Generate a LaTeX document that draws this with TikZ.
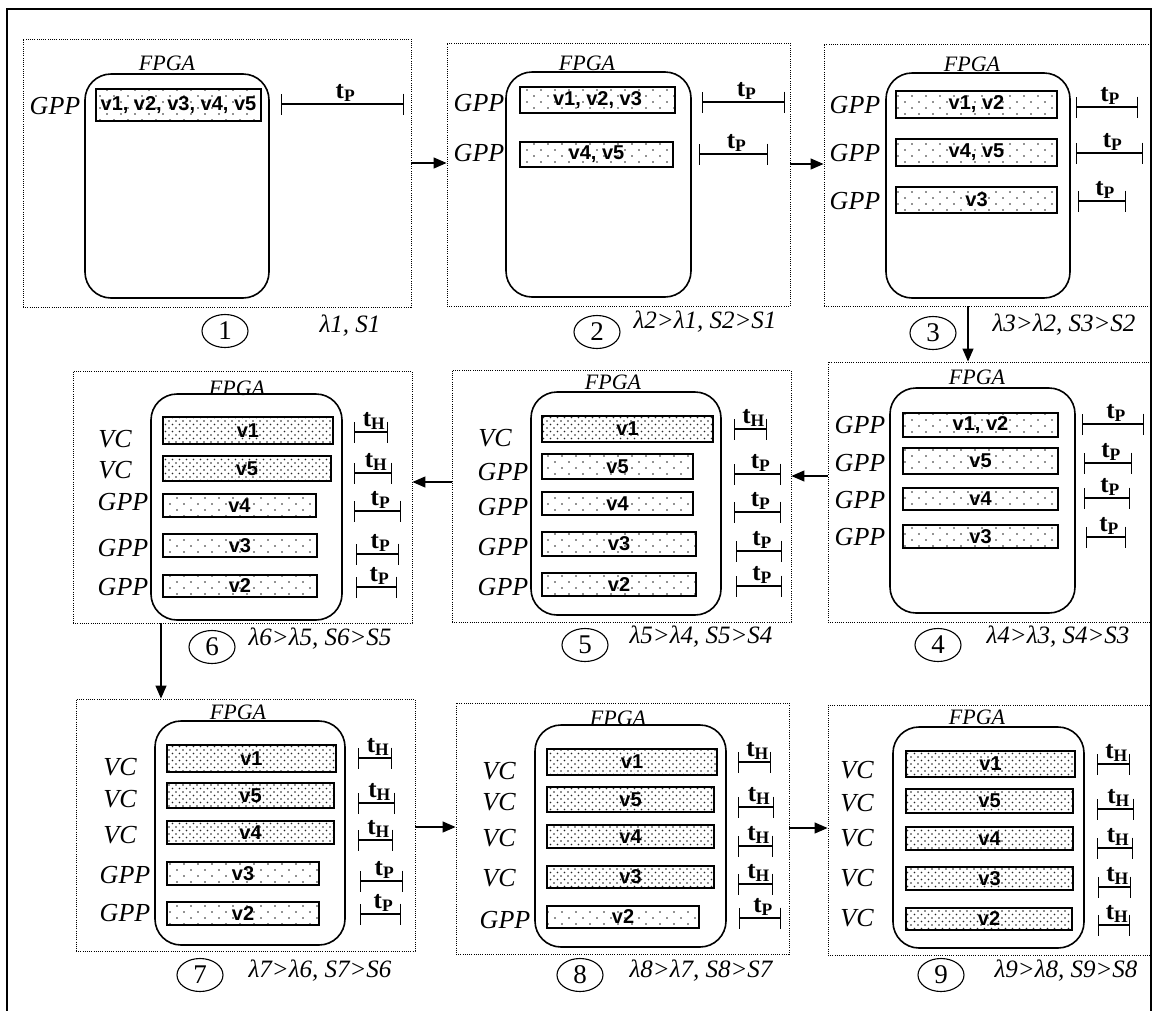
\documentclass[tikz,border=0pt]{standalone}
\usepackage{fontspec}
\setmainfont{Liberation Serif}
\setsansfont{Liberation Sans}
\usetikzlibrary{arrows.meta,fit,patterns,shapes.geometric}

% fill patterns: sparse dots for GPP slots, dense dots for VC slots
\pgfdeclarepatternformonly{gppdots}{\pgfqpoint{-1pt}{-1pt}}{\pgfqpoint{15pt}{13pt}}{\pgfqpoint{14pt}{12pt}}{%
  \pgfpathcircle{\pgfqpoint{2pt}{2pt}}{0.8pt}%
  \pgfpathcircle{\pgfqpoint{9pt}{8pt}}{0.8pt}%
  \pgfusepath{fill}}
\pgfdeclarepatternformonly{vcdots}{\pgfqpoint{-1pt}{-1pt}}{\pgfqpoint{8pt}{8pt}}{\pgfqpoint{7pt}{7pt}}{%
  \pgfpathcircle{\pgfqpoint{1pt}{1pt}}{0.85pt}%
  \pgfpathcircle{\pgfqpoint{4.5pt}{4.5pt}}{0.85pt}%
  \pgfusepath{fill}}

\newcommand\tP{\textbf{t\textsubscript{P}}}
\newcommand\tH{\textbf{t\textsubscript{H}}}

% slot bar: name, style, x1, y1, x2, y2, text
\newcommand\Slot[7]{%
  \pgfmathsetmacro\slotw{#5-#3}\pgfmathsetmacro\sloth{#6-#4}%
  \pgfmathsetmacro\slotx{(#3+#5)/2}\pgfmathsetmacro\sloty{(#4+#6)/2}%
  \node[#2, minimum width=\slotw pt, minimum height=\sloth pt] (#1) at (\slotx,\sloty) {#7};}
% timing span: name, x1, x2, y, label
\newcommand\Span[5]{%
  \coordinate (#1-l) at (#2,#4); \coordinate (#1-r) at (#3,#4);
  \draw[spanline] (#1-l) -- node[tlab] {#5} (#1-r);}
% framed box: name, style, x1, y1, x2, y2
\newcommand\Frame[6]{%
  \path (#3,#4) coordinate (#1-nw) (#5,#6) coordinate (#1-se);
  \node[#2, fit=(#1-nw)(#1-se)] (#1) {};}

\tikzset{
  panel/.style={draw, line width=0.9pt, dash pattern=on 0.9pt off 1.3pt, inner sep=0pt},
  fpga/.style={draw, line width=1.6pt, rounded corners=26pt, inner sep=0pt},
  slotbase/.style={draw, line width=1.5pt, inner sep=0pt,
    font=\sffamily\bfseries\fontsize{20}{20}\selectfont},
  gpp/.style={slotbase, pattern=gppdots, pattern color=black!85},
  vc/.style={slotbase, pattern=vcdots, pattern color=black!85},
  spanline/.style={line width=1.4pt, {Bar[width=21pt,line width=1.4pt]}-{Bar[width=21pt,line width=1.4pt]}},
  tlab/.style={above, inner sep=1.5pt, xshift=3pt, font=\fontsize{25}{25}\selectfont},
  unitlab/.style={font=\itshape\fontsize{26}{26}\selectfont, inner sep=0pt},
  fpgalab/.style={font=\itshape\fontsize{22}{22}\selectfont, inner sep=0pt},
  stagenum/.style={draw, ellipse, line width=1.1pt, minimum width=46pt, minimum height=33pt,
    inner sep=0pt, font=\fontsize{27}{27}\selectfont},
  cond/.style={font=\itshape\fontsize{25}{25}\selectfont, inner sep=0pt},
  arr/.style={line width=1.3pt, -{Triangle[length=13pt,width=11pt]}}
}

\begin{document}
\begin{tikzpicture}[x=1pt,y=-1pt]
\useasboundingbox (0,0) rectangle (1154,1010);
\fill[white] (0,0) rectangle (1154,1010);
\draw[line width=1.6pt] (7,9) rectangle (1151,1030);

% ---------- stage 1 ----------
\Frame{p1}{panel}{23}{39}{411}{307}
\Frame{f1}{fpga}{85}{74}{269}{298}
\node[fpgalab] (f1l) at (167,63) {FPGA};
\node[unitlab] (u1a) at (55,106) {GPP};
\Slot{s1a}{gpp}{96}{89}{261}{121}{v1, v2, v3, v4, v5}
\Span{t1a}{281}{404}{104}{\tP}
\node[stagenum] (n1) at (225,331) {1};
\node[cond] (c1) at (350,326) {λ1, S1};

% ---------- stage 2 ----------
\Frame{p2}{panel}{447}{43}{790}{306}
\Frame{f2}{fpga}{506}{72}{691}{297}
\node[fpgalab] (f2l) at (587,63) {FPGA};
\node[unitlab] (u2a) at (479,103) {GPP};
\node[unitlab] (u2b) at (479,153) {GPP};
\Slot{s2a}{gpp}{520}{87}{675}{113}{v1, v2, v3}
\Slot{s2b}{gpp}{520}{142}{673}{167}{v4, v5}
\Span{t2a}{702}{785}{102}{\tP}
\Span{t2b}{699}{768}{154}{\tP}
\node[stagenum] (n2) at (597,332) {2};
\node[cond] (c2) at (705,322) {λ2>λ1, S2>S1};

% ---------- stage 3 ----------
\Frame{p3}{panel}{824}{44}{1150}{306}
\Frame{f3}{fpga}{886}{73}{1070}{298}
\node[fpgalab] (f3l) at (972,64) {FPGA};
\node[unitlab] (u3a) at (855,105) {GPP};
\node[unitlab] (u3b) at (855,153) {GPP};
\node[unitlab] (u3c) at (855,201) {GPP};
\Slot{s3a}{gpp}{896}{91}{1057}{118}{v1, v2}
\Slot{s3b}{gpp}{896}{139}{1057}{166}{v4, v5}
\Slot{s3c}{gpp}{896}{187}{1057}{213}{v3}
\Span{t3a}{1076}{1138}{107}{\tP}
\Span{t3b}{1076}{1143}{153}{\tP}
\Span{t3c}{1078}{1126}{201}{\tP}
\node[stagenum] (n3) at (933,333) {3};
\node[cond] (c3) at (1064,325) {λ3>λ2, S3>S2};

% ---------- stage 4 ----------
\Frame{p4}{panel}{828}{362}{1150}{622}
\Frame{f4}{fpga}{890}{388}{1075}{613}
\node[fpgalab] (f4l) at (977,377) {FPGA};
\node[unitlab] (u4a) at (860,425) {GPP};
\node[unitlab] (u4b) at (860,463) {GPP};
\node[unitlab] (u4c) at (860,500) {GPP};
\node[unitlab] (u4d) at (860,537) {GPP};
\Slot{s4a}{gpp}{903}{413}{1058}{437}{v1, v2}
\Slot{s4b}{gpp}{903}{448}{1058}{474}{v5}
\Slot{s4c}{gpp}{903}{488}{1058}{510}{v4}
\Slot{s4d}{gpp}{903}{525}{1058}{548}{v3}
\Span{t4a}{1082}{1144}{424}{\tP}
\Span{t4b}{1084}{1132}{463}{\tP}
\Span{t4c}{1084}{1130}{498}{\tP}
\Span{t4d}{1086}{1126}{537}{\tP}
\node[stagenum] (n4) at (938,645) {4};
\node[cond] (c4) at (1058,637) {λ4>λ3, S4>S3};

% ---------- stage 5 ----------
\Frame{p5}{panel}{452}{370}{791}{622}
\Frame{f5}{fpga}{531}{392}{721}{615}
\node[fpgalab] (f5l) at (613,382) {FPGA};
\node[unitlab] (u5a) at (495,438) {VC};
\node[unitlab] (u5b) at (503,472) {GPP};
\node[unitlab] (u5c) at (503,507) {GPP};
\node[unitlab] (u5d) at (503,547) {GPP};
\node[unitlab] (u5e) at (503,587) {GPP};
\Slot{s5a}{vc}{542}{416}{713}{442}{v1}
\Slot{s5b}{gpp}{542}{454}{693}{479}{v5}
\Slot{s5c}{gpp}{542}{492}{693}{515}{v4}
\Slot{s5d}{gpp}{542}{532}{696}{556}{v3}
\Slot{s5e}{gpp}{542}{573}{696}{596}{v2}
\Span{t5a}{734}{767}{429}{\tH}
\Span{t5b}{734}{781}{474}{\tP}
\Span{t5c}{734}{781}{512}{\tP}
\Span{t5d}{736}{782}{551}{\tP}
\Span{t5e}{736}{782}{586}{\tP}
\node[stagenum] (n5) at (585,645) {5};
\node[cond] (c5) at (701,637) {λ5>λ4, S5>S4};

% ---------- stage 6 ----------
\Frame{p6}{panel}{73}{371}{412}{623}
\Frame{f6}{fpga}{151}{394}{342}{620}
\node[fpgalab] (f6l) at (237,388) {FPGA};
\node[unitlab] (u6a) at (115,439) {VC};
\node[unitlab] (u6b) at (115,470) {VC};
\node[unitlab] (u6c) at (123,502) {GPP};
\node[unitlab] (u6d) at (123,548) {GPP};
\node[unitlab] (u6e) at (123,587) {GPP};
\Slot{s6a}{vc}{163}{417}{333}{444}{v1}
\Slot{s6b}{vc}{163}{456}{331}{481}{v5}
\Slot{s6c}{gpp}{163}{494}{316}{517}{v4}
\Slot{s6d}{gpp}{163}{534}{317}{557}{v3}
\Slot{s6e}{gpp}{163}{575}{317}{597}{v2}
\Span{t6a}{354}{388}{432}{\tH}
\Span{t6b}{354}{392}{473}{\tH}
\Span{t6c}{354}{401}{511}{\tP}
\Span{t6d}{356}{399}{554}{\tP}
\Span{t6e}{356}{397}{587}{\tP}
\node[stagenum] (n6) at (212,647) {6};
\node[cond] (c6) at (320,639) {λ6>λ5, S6>S5};

% ---------- stage 7 ----------
\Frame{p7}{panel}{76}{699}{415}{951}
\Frame{f7}{fpga}{155}{721}{345}{945}
\node[fpgalab] (f7l) at (238,712) {FPGA};
\node[unitlab] (u7a) at (120,767) {VC};
\node[unitlab] (u7b) at (120,799) {VC};
\node[unitlab] (u7c) at (120,835) {VC};
\node[unitlab] (u7d) at (125,875) {GPP};
\node[unitlab] (u7e) at (125,913) {GPP};
\Slot{s7a}{vc}{167}{745}{336}{772}{v1}
\Slot{s7b}{vc}{167}{783}{334}{808}{v5}
\Slot{s7c}{vc}{167}{821}{334}{844}{v4}
\Slot{s7d}{gpp}{167}{862}{319}{885}{v3}
\Slot{s7e}{gpp}{167}{902}{319}{925}{v2}
\Span{t7a}{358}{392}{758}{\tH}
\Span{t7b}{358}{395}{803}{\tH}
\Span{t7c}{358}{393}{840}{\tH}
\Span{t7d}{360}{403}{881}{\tP}
\Span{t7e}{360}{401}{914}{\tP}
\node[stagenum] (n7) at (200,975) {7};
\node[cond] (c7) at (320,971) {λ7>λ6, S7>S6};

% ---------- stage 8 ----------
\Frame{p8}{panel}{456}{703}{789}{954}
\Frame{f8}{fpga}{535}{725}{726}{947}
\node[fpgalab] (f8l) at (618,718) {FPGA};
\node[unitlab] (u8a) at (499,771) {VC};
\node[unitlab] (u8b) at (499,802) {VC};
\node[unitlab] (u8c) at (499,838) {VC};
\node[unitlab] (u8d) at (499,878) {VC};
\node[unitlab] (u8e) at (505,920) {GPP};
\Slot{s8a}{vc}{547}{749}{717}{775}{v1}
\Slot{s8b}{vc}{547}{787}{714}{812}{v5}
\Slot{s8c}{vc}{547}{825}{714}{848}{v4}
\Slot{s8d}{vc}{547}{866}{714}{888}{v3}
\Slot{s8e}{gpp}{547}{906}{699}{928}{v2}
\Span{t8a}{738}{771}{762}{\tH}
\Span{t8b}{738}{774}{807}{\tH}
\Span{t8c}{738}{773}{846}{\tH}
\Span{t8d}{738}{773}{884}{\tH}
\Span{t8e}{739}{781}{918}{\tP}
\node[stagenum] (n8) at (580,975) {8};
\node[cond] (c8) at (701,971) {λ8>λ7, S8>S7};

% ---------- stage 9 ----------
\Frame{p9}{panel}{828}{705}{1151}{955}
\Frame{f9}{fpga}{893}{727}{1084}{948}
\node[fpgalab] (f9l) at (977,717) {FPGA};
\node[unitlab] (u9a) at (857,770) {VC};
\node[unitlab] (u9b) at (857,803) {VC};
\node[unitlab] (u9c) at (857,838) {VC};
\node[unitlab] (u9d) at (857,878) {VC};
\node[unitlab] (u9e) at (857,918) {VC};
\Slot{s9a}{vc}{906}{751}{1075}{777}{v1}
\Slot{s9b}{vc}{906}{789}{1073}{813}{v5}
\Slot{s9c}{vc}{906}{827}{1073}{850}{v4}
\Slot{s9d}{vc}{906}{867}{1073}{890}{v3}
\Slot{s9e}{vc}{906}{908}{1072}{930}{v2}
\Span{t9a}{1097}{1130}{764}{\tH}
\Span{t9b}{1097}{1134}{809}{\tH}
\Span{t9c}{1097}{1133}{848}{\tH}
\Span{t9d}{1098}{1131}{887}{\tH}
\Span{t9e}{1098}{1130}{925}{\tH}
\node[stagenum] (n9) at (941,975) {9};
\node[cond] (c9) at (1066,971) {λ9>λ8, S9>S8};

% ---------- transitions between stages ----------
\coordinate (y12) at (0,163);
\coordinate (y23) at (0,164);
\coordinate (x34) at (968,0);
\coordinate (y45) at (0,476);
\coordinate (y56) at (0,482);
\coordinate (x67) at (161,0);
\coordinate (y78) at (0,827);
\coordinate (y89) at (0,828);
\draw[arr] (p1.east |- y12) -- (p2.west |- y12);
\draw[arr] (p2.east |- y23) -- (p3.west |- y23);
\draw[arr] (p3.south -| x34) -- (p4.north -| x34);
\draw[arr] (p4.west |- y45) -- (p5.east |- y45);
\draw[arr] (p5.west |- y56) -- (p6.east |- y56);
\draw[arr] (p6.south -| x67) -- (p7.north -| x67);
\draw[arr] (p7.east |- y78) -- (p8.west |- y78);
\draw[arr] (p8.east |- y89) -- (p9.west |- y89);
\end{tikzpicture}
\end{document}
